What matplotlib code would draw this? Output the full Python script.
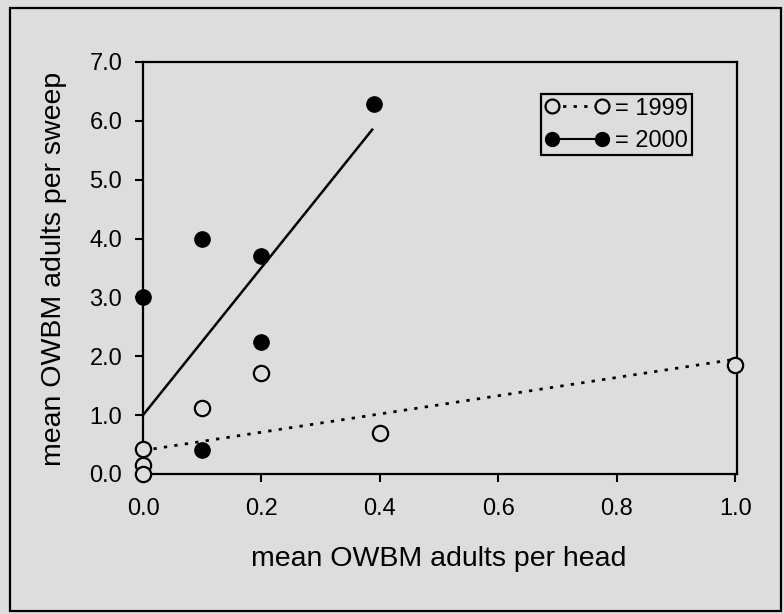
import numpy as np
import matplotlib

matplotlib.use("Agg")
import matplotlib.pyplot as plt
from matplotlib.patches import Rectangle

# data
x_1999 = [0.0, 0.0, 0.0, 0.1, 0.2, 0.4, 1.0]
y_1999 = [0.43, 0.15, 0.0, 1.12, 1.72, 0.70, 1.85]
x_2000 = [0.0, 0.1, 0.1, 0.2, 0.2, 0.39]
y_2000 = [3.0, 4.0, 0.40, 3.70, 2.24, 6.28]

# fitted lines (end points as drawn)
fit_1999_x = [0.0, 1.0]
fit_1999_y = [0.40, 1.95]
fit_2000_x = [0.0, 0.387]
fit_2000_y = [1.0, 5.85]

x_ticks = [0.0, 0.2, 0.4, 0.6, 0.8, 1.0]
y_ticks = [0.0, 1.0, 2.0, 3.0, 4.0, 5.0, 6.0, 7.0]

bg = "#dcdddc"
plt.rcParams["font.family"] = ["Liberation Sans", "DejaVu Sans"]

fig = plt.figure(figsize=(7.84, 6.14), dpi=100, facecolor=bg)
ax = fig.add_axes([143 / 784, 1 - 474 / 614, 594 / 784, 412 / 614])
ax.set_facecolor(bg)

# outer border of the figure panel
fig.patches.append(Rectangle((10 / 784, 3 / 614), 771 / 784, 603 / 614,
                             transform=fig.transFigure, fill=False,
                             edgecolor="black", linewidth=1.6))

ax.plot(fit_1999_x, fit_1999_y, color="black", lw=2,
        linestyle=(0, (1.2, 2.6)), zorder=2)
ax.plot(fit_2000_x, fit_2000_y, color="black", lw=1.8, zorder=2)

ax.plot(x_1999, y_1999, linestyle="none", marker="o", ms=11,
        mfc=bg, mec="black", mew=1.6, clip_on=False, zorder=3)
ax.plot(x_2000, y_2000, linestyle="none", marker="o", ms=11,
        mfc="black", mec="black", clip_on=False, zorder=4)

# legend handles: marker - line - marker
h1, = ax.plot([], [], color="black", lw=2, linestyle=(0, (1.2, 2.6)),
              marker="o", ms=10, mfc=bg, mec="black", mew=1.6)
h2, = ax.plot([], [], color="black", lw=1.5, marker="o", ms=10,
              mfc="black", mec="black")
leg = ax.legend([h1, h2], ["= 1999", "= 2000"], numpoints=2,
                loc="upper right", bbox_to_anchor=(0.924, 0.922),
                borderaxespad=0, fontsize=17, handlelength=2.75,
                handletextpad=0.25, borderpad=0.15, labelspacing=0.43,
                fancybox=False, framealpha=1, facecolor=bg,
                edgecolor="black")
leg.get_frame().set_linewidth(1.6)

ax.set_xlim(0, 1.003)
ax.set_ylim(0, 7)
ax.set_xticks(x_ticks)
ax.set_xticklabels([f"{v:.1f}" for v in x_ticks])
ax.set_yticks(y_ticks)
ax.set_yticklabels([f"{v:.1f}" for v in y_ticks])
ax.tick_params(axis="both", direction="out", length=6, width=1.5,
               labelsize=17, colors="black")
ax.tick_params(axis="x", pad=11)
ax.tick_params(axis="y", pad=9)

for sp in ax.spines.values():
    sp.set_linewidth(1.6)

ax.set_xlabel("mean OWBM adults per head", fontsize=20.5)
ax.set_ylabel("mean OWBM adults per sweep", fontsize=20.5)
ax.xaxis.set_label_coords(0.497, (474 - 546) / 412)
ax.yaxis.set_label_coords((67 - 143) / 594, (474 - 269) / 412)

fig.savefig("out.png", dpi=100, facecolor=bg)
